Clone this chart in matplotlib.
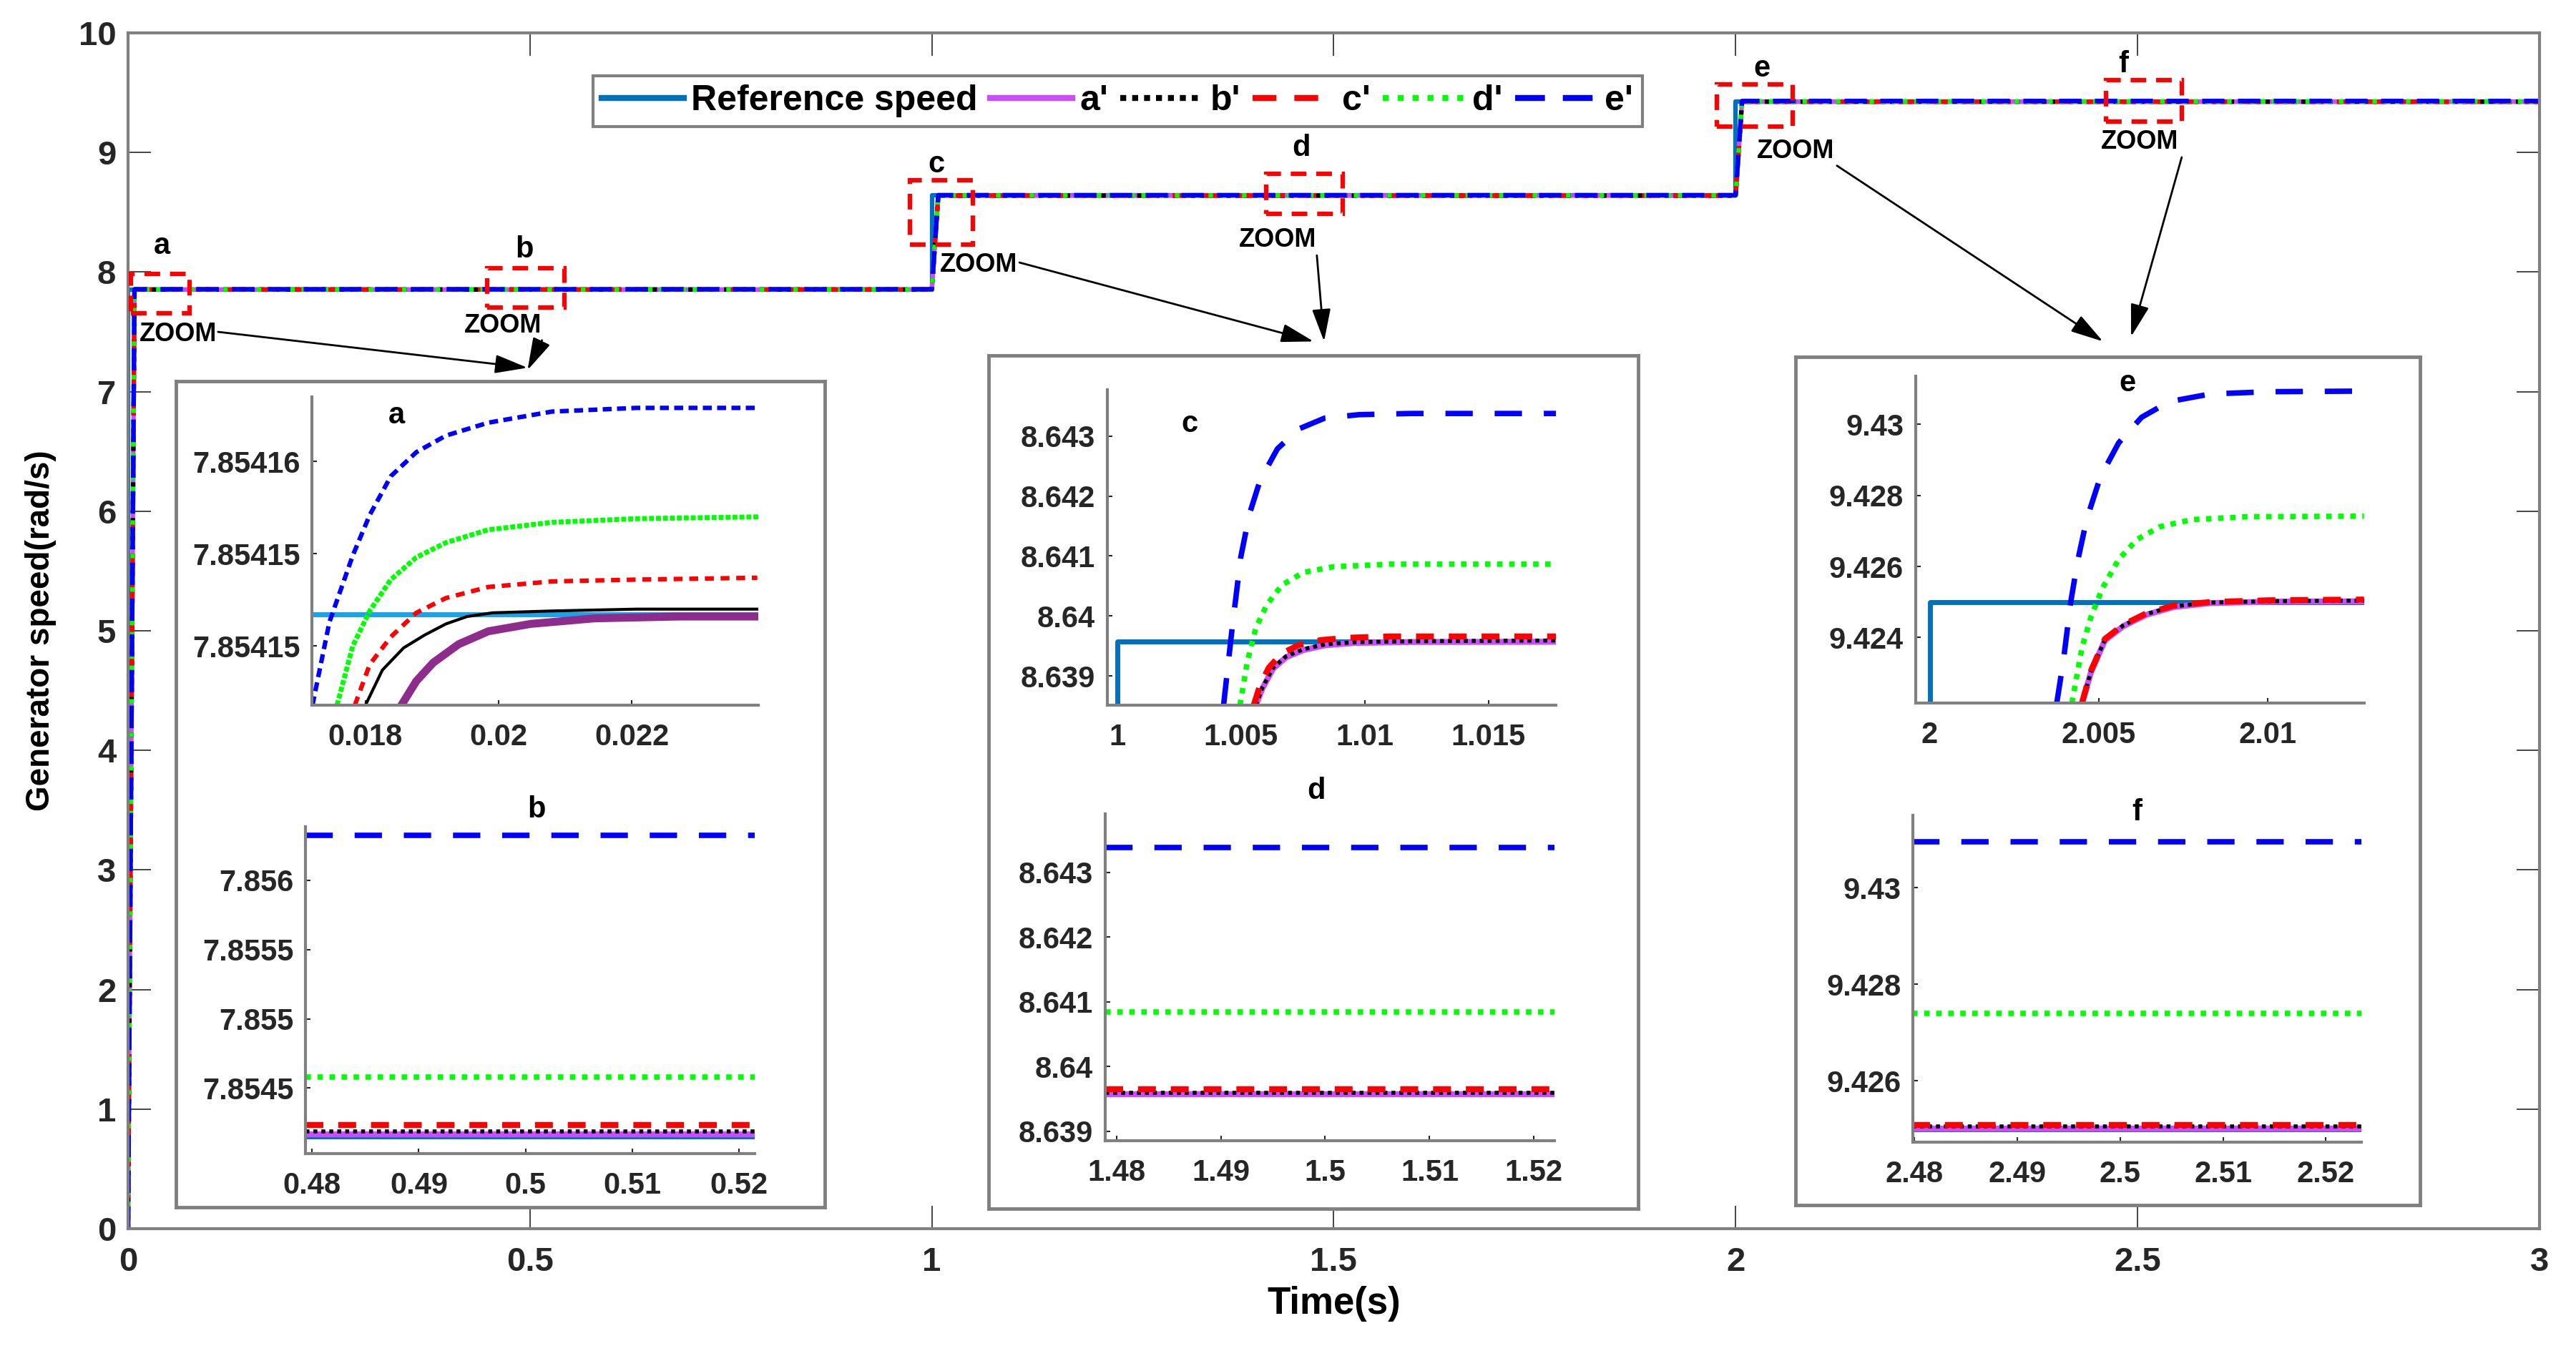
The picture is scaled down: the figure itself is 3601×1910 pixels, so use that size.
import matplotlib
matplotlib.use("Agg")
import matplotlib.pyplot as plt
from matplotlib.patches import Rectangle

plt.rcParams['font.family'] = ['Liberation Sans', 'DejaVu Sans']
plt.rcParams['font.weight'] = 'bold'

# ---------------- data ----------------
labels = ["Reference speed", "a'", "b'", "c'", "d'", "e'"]

# main plot: step responses (0 -> level1 at t=0, level2 at t=1, level3 at t=2)
main_t = [0.0, 0.008, 1.0, 1.008, 2.0, 2.008, 3.0]
ref_main = [0.0, 7.85415, 7.85415, 8.63958, 8.63958, 9.42500, 9.42500]
a_main = [0.0, 7.85417, 7.85417, 8.63957, 8.63957, 9.42502, 9.42502]
b_main = [0.0, 7.85419, 7.85419, 8.63959, 8.63959, 9.42505, 9.42505]
c_main = [0.0, 7.85424, 7.85424, 8.63965, 8.63965, 9.42509, 9.42509]
d_main = [0.0, 7.85458, 7.85458, 8.64085, 8.64085, 9.42739, 9.42739]
e_main = [0.0, 7.85632, 7.85632, 8.64338, 8.64338, 9.43094, 9.43094]

# zoom a (start-up transient)
za_ref_t = [0.0172, 0.0239]
za_ref = [7.8541517, 7.8541517]
za_e_t = [0.017208, 0.017462, 0.017812, 0.018067, 0.018384, 0.018766, 0.019211, 0.019847, 0.0208, 0.022072, 0.023916]
za_e = [7.8541468, 7.8541513, 7.8541549, 7.8541571, 7.8541592, 7.8541605, 7.8541614, 7.8541621, 7.8541627, 7.8541629, 7.8541629]
za_d_t = [0.017577, 0.017812, 0.018067, 0.018384, 0.018766, 0.019211, 0.019847, 0.0208, 0.022072, 0.023945]
za_d = [7.8541468, 7.8541500, 7.8541519, 7.8541536, 7.8541548, 7.8541556, 7.8541563, 7.8541567, 7.8541569, 7.8541570]
za_c_t = [0.017844, 0.018067, 0.018384, 0.018766, 0.019211, 0.019847, 0.0208, 0.022072, 0.023884]
za_c = [7.8541468, 7.8541490, 7.8541505, 7.8541518, 7.8541526, 7.8541532, 7.8541535, 7.8541536, 7.8541537]
za_b_t = [0.018003, 0.018257, 0.018575, 0.018893, 0.019211, 0.019529, 0.019911, 0.0208, 0.022072, 0.023916]
za_b = [7.8541468, 7.8541487, 7.8541499, 7.8541506, 7.8541512, 7.8541516, 7.8541518, 7.8541519, 7.8541520, 7.8541520]
za_a_t = [0.018543, 0.018766, 0.01902, 0.019402, 0.019847, 0.020483, 0.021437, 0.022708, 0.023948]
za_a = [7.8541468, 7.8541481, 7.8541491, 7.8541501, 7.8541508, 7.8541512, 7.8541515, 7.8541516, 7.8541516]

# zoom b (steady state, first level)
zb_t = [0.4794, 0.5215]
zb_levels = [7.85415, 7.854167, 7.85419, 7.854235, 7.854579, 7.856322]  # ref, a'..e'

# zoom c (step at t = 1)
zc_ref_t = [0.9990, 1.0, 1.0, 1.0178]
zc_ref = [7.85415, 7.85415, 8.639578, 8.639578]
zc_e_t = [1.0043, 1.004648, 1.004997, 1.005344, 1.00578, 1.006477, 1.007347, 1.00839, 1.00978, 1.011873, 1.01774]
zc_e = [8.63851, 8.639801, 8.640987, 8.641699, 8.642269, 8.642791, 8.643123, 8.643303, 8.64336, 8.643379, 8.643379]
zc_d_t = [1.004962, 1.005257, 1.005604, 1.00604, 1.00665, 1.00752, 1.00874, 1.011, 1.01762]
zc_d = [8.63851, 8.639231, 8.639801, 8.64018, 8.640513, 8.640726, 8.640821, 8.640864, 8.640864]
zc_c_t = [1.005517, 1.00578, 1.006127, 1.00665, 1.007347, 1.008217, 1.00926, 1.011, 1.01774]
zc_c = [8.63851, 8.638851, 8.639136, 8.639374, 8.639516, 8.639597, 8.639635, 8.639658, 8.639658]
zc_ab_t = [1.005604, 1.005867, 1.0063, 1.006824, 1.00752, 1.00839, 1.00961, 1.011873, 1.01774]
zc_b = [8.63851, 8.638804, 8.639136, 8.639326, 8.639445, 8.639525, 8.639563, 8.639578, 8.639591]
zc_a = [8.63851, 8.638790, 8.639120, 8.639310, 8.639430, 8.639510, 8.639550, 8.639565, 8.639569]

# zoom d (steady state, second level)
zd_t = [1.4789, 1.5220]
zd_levels = [8.639578, 8.639569, 8.639591, 8.639648, 8.640846, 8.643382]

# zoom e (step at t = 2)
ze_ref_t = [1.9990, 2.0, 2.0, 2.0129]
ze_ref = [8.63958, 8.63958, 9.42500, 9.42500]
ze_e_t = [2.00376, 2.003963, 2.004166, 2.00437, 2.004642, 2.005049, 2.005591, 2.00627, 2.007085, 2.008305, 2.01007, 2.012716]
ze_e = [9.42216, 9.4234, 9.42496, 9.42612, 9.42732, 9.42852, 9.42948, 9.4302, 9.43064, 9.430856, 9.43092, 9.430936]
ze_d_t = [2.004208, 2.004507, 2.004778, 2.005117, 2.005591, 2.006135, 2.006812, 2.007763, 2.00939, 2.01285]
ze_d = [9.42216, 9.42372, 9.4246, 9.4254, 9.4262, 9.42676, 9.42712, 9.42732, 9.4274, 9.427416]
ze_abc_t = [2.004507, 2.004778, 2.005184, 2.005726, 2.006405, 2.00722, 2.008305, 2.01007, 2.01285]
ze_c = [9.42216, 9.42308, 9.42396, 9.42436, 9.42468, 9.42490, 9.42500, 9.42505, 9.42507]
ze_b = [9.42216, 9.42306, 9.42394, 9.42434, 9.42466, 9.42488, 9.424984, 9.425024, 9.42504]
ze_a = [9.42216, 9.42304, 9.42392, 9.42432, 9.42464, 9.42486, 9.42497, 9.42501, 9.42502]

# zoom f (steady state, third level)
zf_t = [2.4798, 2.5235]
zf_levels = [9.42500, 9.425018, 9.425053, 9.425088, 9.427394, 9.430941]

# zoom marks on the main plot: (x0, y0, x1, y1)
zoom_names = ["a", "b", "c", "d", "e", "f"]
zoom_boxes = [(0.004, 7.655, 0.077, 7.985), (0.447, 7.703, 0.543, 8.032),
              (0.9725, 8.231, 1.051, 8.77), (1.416, 8.487, 1.511, 8.822),
              (1.977, 9.218, 2.071, 9.567), (2.461, 9.258, 2.555, 9.607)]
zoom_letter_xy = [(0.042, 8.22), (0.493, 8.19), (1.006, 8.90), (1.46, 9.04), (2.033, 9.70), (2.482, 9.74)]
zoom_text_xy = [(0.062, 7.48), (0.466, 7.55), (1.058, 8.06), (1.43, 8.27), (2.075, 9.01), (2.503, 9.09)]
arrow_from = [(0.112, 7.50), (0.515, 7.43), (1.109, 8.08), (1.479, 8.14), (2.126, 8.89), (2.555, 8.96)]
arrow_to = [(0.497, 7.20), (0.497, 7.18), (1.475, 7.42), (1.488, 7.42), (2.457, 7.42), (2.492, 7.46)]

# ---------------- styles ----------------
colors = ['#0072BD', '#CC4CFF', 'black', '#FF0000', '#00FF00', '#0000FF']
main_ls = ['-', '-', (0, (1, 1)), (0, (4, 3)), (0, (1, 1.5)), (0, (5, 3))]
zoom_ls = ['-', '-', (0, (1, 1)), (0, (3, 2.5)), (0, (1, 1.2)), (0, (5, 4))]
zoom_lw = [5, 6, 4, 6, 5.5, 5.5]
GRAY = '#808080'

fig = plt.figure(figsize=(36.01, 19.10), dpi=100)
ax = fig.add_axes([0.0497, 0.1005, 0.9361, 0.8754])

mains = [ref_main, a_main, b_main, c_main, d_main, e_main]
handles = []
for k, y in enumerate(mains):
    t = [0.0, 0.0, 1.0, 1.0, 2.0, 2.0, 3.0] if k == 0 else main_t
    h, = ax.plot(t, y, color=colors[k], ls=main_ls[k], lw=4.5)
    handles.append(h)

ax.set_xlim(0, 3)
ax.set_ylim(0, 10)
ax.set_xticks([0, 0.5, 1, 1.5, 2, 2.5, 3])
ax.set_xticklabels(['0', '0.5', '1', '1.5', '2', '2.5', '3'])
ax.set_yticks(range(11))
ax.tick_params(direction='in', length=23, width=1.2, top=True, right=True,
               labelsize=34, colors='#262626')
ax.tick_params(axis='x', pad=18)
ax.tick_params(axis='y', pad=12)
for s in ax.spines.values():
    s.set_color(GRAY)
    s.set_linewidth(3)
ax.set_xlabel('Time(s)', fontsize=38, fontweight='bold', labelpad=8)
ax.set_ylabel('Generator speed(rad/s)', fontsize=33, fontweight='bold', labelpad=22)

# zoom marks, letters, arrows
for k in range(6):
    x0, y0, x1, y1 = zoom_boxes[k]
    ax.add_patch(Rectangle((x0, y0), x1 - x0, y1 - y0, fill=False, ec='red',
                           lw=4.5, ls=(0, (3.5, 2.2)), zorder=5))
    ax.text(*zoom_letter_xy[k], zoom_names[k], fontsize=30, ha='center', va='center')
    ax.text(*zoom_text_xy[k], 'ZOOM', fontsize=26, ha='center', va='center')
    ax.annotate('', xy=arrow_to[k], xytext=arrow_from[k],
                arrowprops=dict(arrowstyle='-|>,head_length=0.7,head_width=0.2',
                                lw=2, color='black', mutation_scale=40,
                                shrinkA=0, shrinkB=0))

leg = ax.legend(handles, labels, loc='center', bbox_to_anchor=(0.4338, 0.926),
                bbox_transform=fig.transFigure, ncol=6, fontsize=36,
                handlelength=2.3, handletextpad=0.2, columnspacing=0.35,
                borderpad=0.25, fancybox=False, framealpha=1)
leg.get_frame().set_edgecolor(GRAY)
leg.get_frame().set_linewidth(3)
for ln in leg.get_lines():
    ln.set_linewidth(6)

# white frames holding the zoom panels
for pos in [[0.0683, 0.1162, 0.2519, 0.6047], [0.3838, 0.1152, 0.2521, 0.6246],
            [0.6970, 0.1178, 0.2424, 0.6209]]:
    bx = fig.add_axes(pos)
    bx.set_xticks([])
    bx.set_yticks([])
    for s in bx.spines.values():
        s.set_color(GRAY)
        s.set_linewidth(3.5)


def inset(pos, xlim, ylim, xticks, xlabels, yticks, ylabels):
    ia = fig.add_axes(pos)
    ia.patch.set_alpha(0)
    for s in ['top', 'right']:
        ia.spines[s].set_visible(False)
    for s in ['left', 'bottom']:
        ia.spines[s].set_color(GRAY)
        ia.spines[s].set_linewidth(3)
    ia.set_xlim(*xlim)
    ia.set_ylim(*ylim)
    ia.set_xticks(xticks)
    ia.set_xticklabels(xlabels)
    ia.set_yticks(yticks)
    ia.set_yticklabels(ylabels)
    ia.tick_params(direction='in', length=5, width=1.5, labelsize=30, colors='#262626')
    ia.tick_params(axis='x', pad=18)
    ia.tick_params(axis='y', pad=12)
    return ia


def flat(ia, t, levels):
    for k, v in enumerate(levels):
        ia.plot(t, [v, v], color=colors[k], ls=zoom_ls[k], lw=zoom_lw[k])


# inset a
ia = inset([0.1211, 0.4838, 0.1733, 0.2257], (0.0172, 0.0239), (7.8541468, 7.8541635),
           [0.018, 0.02, 0.022], ['0.018', '0.02', '0.022'],
           [7.85415, 7.854155, 7.85416], ['7.85415', '7.85415', '7.85416'])
ia.plot(za_ref_t, za_ref, color='#1AA3E8', lw=5)
ia.plot(za_a_t, za_a, color='#8E2C8E', lw=8)
ia.plot(za_b_t, za_b, color='black', lw=3)
ia.plot(za_c_t, za_c, color='#FF0000', lw=4.5, ls=(0, (2, 1.5)))
ia.plot(za_d_t, za_d, color='#00FF00', lw=5, ls=(0, (1, 0.4)))
ia.plot(za_e_t, za_e, color='#0000FF', lw=4.5, ls=(0, (2, 1.2)))
ia.text(0.19, 0.94, 'a', transform=ia.transAxes, fontsize=30, ha='center', va='center')

# inset b
ib = inset([0.1187, 0.1555, 0.1743, 0.2393], (0.47941, 0.52147), (7.854028, 7.856385),
           [0.48, 0.49, 0.5, 0.51, 0.52], ['0.48', '0.49', '0.5', '0.51', '0.52'],
           [7.8545, 7.855, 7.8555, 7.856], ['7.8545', '7.855', '7.8555', '7.856'])
flat(ib, zb_t, zb_levels)
ib.text(0.514, 1.052, 'b', transform=ib.transAxes, fontsize=30, ha='center', va='center')

# inset c
ic = inset([0.4298, 0.4840, 0.1743, 0.2304], (0.9996, 1.01773), (8.638516, 8.643769),
           [1, 1.005, 1.01, 1.015], ['1', '1.005', '1.01', '1.015'],
           [8.639, 8.64, 8.641, 8.642, 8.643], ['8.639', '8.64', '8.641', '8.642', '8.643'])
ic.plot(zc_ref_t, zc_ref, color=colors[0], lw=zoom_lw[0])
ic.plot(zc_ab_t, zc_a, color=colors[1], ls=zoom_ls[1], lw=zoom_lw[1])
ic.plot(zc_ab_t, zc_b, color=colors[2], ls=zoom_ls[2], lw=zoom_lw[2])
ic.plot(zc_c_t, zc_c, color=colors[3], ls=zoom_ls[3], lw=zoom_lw[3])
ic.plot(zc_d_t, zc_d, color=colors[4], ls=zoom_ls[4], lw=zoom_lw[4])
ic.plot(zc_e_t, zc_e, color=colors[5], ls=zoom_ls[5], lw=zoom_lw[5])
ic.text(0.184, 0.892, 'c', transform=ic.transAxes, fontsize=30, ha='center', va='center')

# inset d
idd = inset([0.4290, 0.1651, 0.1745, 0.2393], (1.47892, 1.52198), (8.638855, 8.64391),
            [1.48, 1.49, 1.5, 1.51, 1.52], ['1.48', '1.49', '1.5', '1.51', '1.52'],
            [8.639, 8.64, 8.641, 8.642, 8.643], ['8.639', '8.64', '8.641', '8.642', '8.643'])
flat(idd, zd_t, zd_levels)
idd.text(0.47, 1.07, 'd', transform=idd.transAxes, fontsize=30, ha='center', va='center')

# inset e
ie = inset([0.7436, 0.4854, 0.1741, 0.2393], (1.99958, 2.01285), (9.42216, 9.43136),
           [2, 2.005, 2.01], ['2', '2.005', '2.01'],
           [9.424, 9.426, 9.428, 9.43], ['9.424', '9.426', '9.428', '9.43'])
ie.plot(ze_ref_t, ze_ref, color=colors[0], lw=zoom_lw[0])
ie.plot(ze_abc_t, ze_a, color=colors[1], ls=zoom_ls[1], lw=zoom_lw[1])
ie.plot(ze_abc_t, ze_b, color=colors[2], ls=zoom_ls[2], lw=zoom_lw[2])
ie.plot(ze_abc_t, ze_c, color=colors[3], ls=zoom_ls[3], lw=zoom_lw[3])
ie.plot(ze_d_t, ze_d, color=colors[4], ls=zoom_ls[4], lw=zoom_lw[4])
ie.plot(ze_e_t, ze_e, color=colors[5], ls=zoom_ls[5], lw=zoom_lw[5])
ie.text(0.473, 0.978, 'e', transform=ie.transAxes, fontsize=30, ha='center', va='center')

# inset f
iff = inset([0.7427, 0.1640, 0.1741, 0.2393], (2.47987, 2.52348), (9.424735, 9.4315),
            [2.48, 2.49, 2.5, 2.51, 2.52], ['2.48', '2.49', '2.5', '2.51', '2.52'],
            [9.426, 9.428, 9.43], ['9.426', '9.428', '9.43'])
flat(iff, zf_t, zf_levels)
iff.text(0.499, 1.009, 'f', transform=iff.transAxes, fontsize=30, ha='center', va='center')

fig.savefig('out.png', dpi=100)
